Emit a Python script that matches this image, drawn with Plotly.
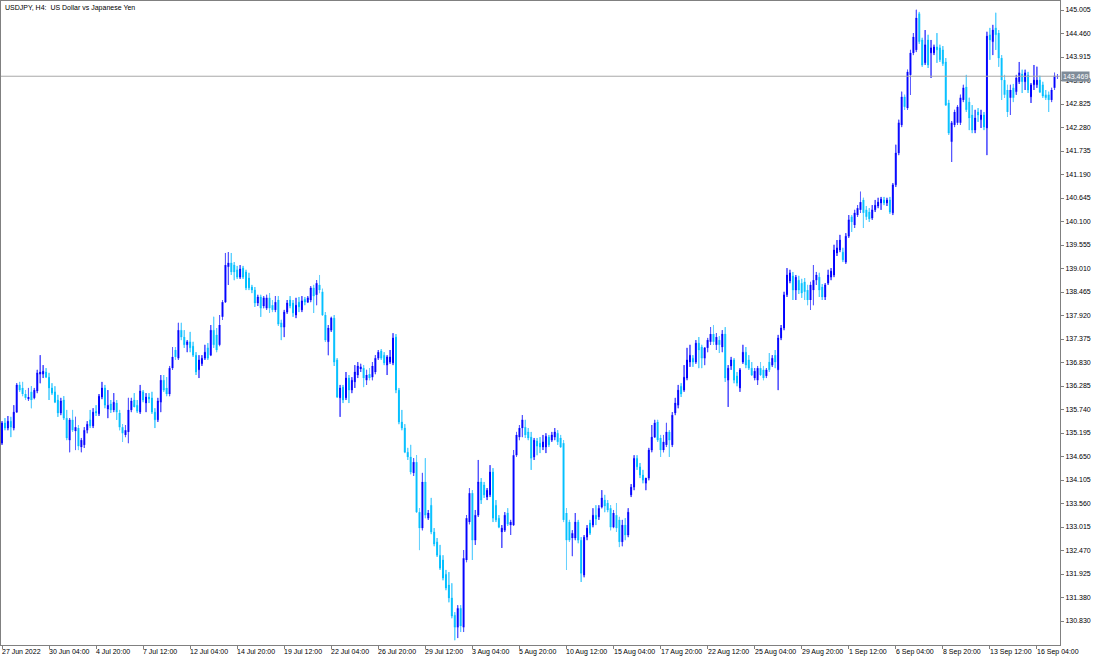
import plotly.graph_objects as go

# ---- data (USDJPY, H4) ----
opens = [
    134.96, 135.43, 135.31, 135.47, 135.31, 135.68, 136.31, 136.24, 136.10, 135.98,
    136.15, 136.01, 136.17, 136.56, 136.56, 136.61, 136.49, 136.24, 136.15, 135.96,
    135.66, 135.96, 135.54, 135.03, 135.50, 135.24, 135.31, 134.87, 134.92, 135.26,
    135.50, 135.36, 135.70, 135.64, 136.03, 136.24, 135.75, 135.87, 135.73, 135.89,
    135.66, 135.33, 135.15, 135.22, 135.73, 135.96, 135.84, 135.68, 136.15, 135.89,
    136.03, 136.01, 135.68, 135.50, 135.91, 136.42, 136.24, 136.10, 136.70, 137.12,
    136.93, 137.58, 137.42, 137.24, 137.31, 137.21, 137.00, 136.66, 136.80, 136.93,
    137.17, 137.00, 137.58, 137.47, 137.24, 137.89, 138.23, 139.05, 139.14, 139.09,
    138.98, 138.81, 139.02, 138.93, 138.79, 138.58, 138.51, 138.21, 138.35, 138.14,
    138.09, 138.33, 138.16, 138.05, 138.28, 137.75, 137.65, 138.00, 138.28, 138.21,
    137.93, 138.23, 138.05, 138.30, 138.23, 138.28, 138.56, 138.40, 138.63, 138.47,
    137.93, 137.31, 137.58, 137.86, 136.89, 136.01, 136.26, 136.01, 136.47, 136.19,
    136.38, 136.54, 136.68, 136.70, 136.42, 136.56, 136.49, 136.61, 136.93, 137.10,
    137.00, 136.77, 136.84, 136.82, 137.42, 136.19, 135.45, 135.31, 134.75, 134.64,
    134.27, 134.52, 133.36, 132.99, 134.06, 133.22, 133.52, 132.90, 132.67, 132.36,
    132.25, 131.92, 131.67, 131.37, 130.97, 130.69, 131.13, 130.69, 132.25, 133.13,
    133.80, 132.71, 133.29, 134.06, 133.99, 133.71, 133.76, 134.29, 133.52, 133.22,
    132.90, 132.94, 133.34, 133.06, 133.06, 134.68, 135.10, 135.31, 135.33, 135.22,
    135.10, 134.64, 135.01, 134.96, 134.87, 134.87, 135.10, 135.03, 135.10, 135.19,
    135.08, 134.96, 133.34, 133.13, 132.76, 132.76, 133.13, 132.71, 131.90, 132.78,
    133.11, 133.06, 133.29, 133.25, 133.48, 133.64, 133.57, 133.45, 133.01, 133.29,
    133.18, 132.67, 133.06, 132.83, 133.76, 133.94, 134.61, 134.41, 134.22, 134.03,
    134.15, 134.80, 135.10, 135.45, 135.08, 134.80, 134.92, 135.22, 134.92, 135.66,
    135.84, 136.28, 136.19, 136.47, 136.84, 136.93, 136.84, 137.28, 137.19, 136.93,
    137.17, 137.31, 137.49, 137.24, 137.35, 137.19, 137.49, 136.42, 136.75, 136.89,
    136.52, 136.24, 136.84, 137.07, 136.89, 136.70, 136.47, 136.42, 136.70, 136.66,
    136.52, 136.84, 136.77, 137.00, 136.66, 137.40, 137.63, 138.40, 138.72, 138.84,
    138.51, 138.74, 138.67, 138.70, 138.51, 138.28, 138.51, 138.74, 138.81, 138.58,
    138.35, 138.67, 138.81, 138.86, 139.37, 139.44, 139.39, 139.16, 139.76, 140.21,
    140.02, 140.25, 140.37, 140.60, 140.37, 140.32, 140.18, 140.37, 140.46, 140.53,
    140.60, 140.53, 140.60, 140.30, 140.95, 141.69, 142.34, 142.99, 142.73, 143.50,
    144.01, 144.08, 144.92, 144.31, 143.78, 144.31, 144.01, 144.01, 144.15, 144.13,
    144.08, 143.80, 142.85, 141.95, 142.34, 142.39, 142.39, 142.92, 143.22, 142.87,
    142.57, 142.22, 142.64, 142.46, 142.57, 142.27, 144.43, 144.27, 144.59, 144.47,
    143.89, 143.38, 143.15, 142.97, 143.20, 143.11, 143.34, 143.52, 143.34, 143.50,
    142.99, 143.27, 143.27, 143.38, 143.27, 143.04, 143.04, 142.92, 143.20, 143.45,
]
highs = [
    135.47, 135.54, 135.59, 135.57, 135.84, 136.35, 136.38, 136.38, 136.19, 136.24,
    136.28, 136.24, 136.66, 137.00, 136.77, 136.70, 136.59, 136.35, 136.28, 136.08,
    136.01, 136.05, 135.73, 135.54, 135.73, 135.57, 135.38, 135.08, 135.33, 135.47,
    135.73, 135.77, 135.84, 136.10, 136.38, 136.31, 136.19, 135.96, 136.12, 135.96,
    135.73, 135.40, 135.38, 136.01, 136.01, 136.12, 135.96, 136.31, 136.19, 136.12,
    136.12, 136.15, 135.77, 136.01, 136.54, 136.54, 136.49, 136.75, 137.19, 137.19,
    137.75, 137.75, 137.58, 137.35, 137.54, 137.31, 137.07, 137.00, 137.00, 137.24,
    137.28, 137.70, 137.89, 137.63, 137.93, 138.28, 139.37, 139.39, 139.37, 139.16,
    139.07, 139.09, 139.07, 138.98, 138.91, 138.63, 138.58, 138.40, 138.40, 138.37,
    138.40, 138.44, 138.28, 138.37, 138.37, 137.82, 138.05, 138.28, 138.37, 138.28,
    138.33, 138.35, 138.37, 138.35, 138.37, 138.60, 138.63, 138.74, 138.86, 138.54,
    138.00, 137.70, 137.89, 137.93, 136.93, 136.31, 136.31, 136.61, 136.54, 136.49,
    136.77, 136.84, 136.80, 136.77, 136.66, 136.70, 136.84, 137.00, 137.12, 137.14,
    137.07, 137.00, 137.12, 137.51, 137.49, 136.24, 135.73, 135.40, 134.85, 134.92,
    134.61, 134.68, 133.45, 134.27, 134.61, 133.41, 133.69, 132.99, 132.76, 132.60,
    132.36, 132.02, 131.97, 131.71, 131.04, 131.20, 131.20, 132.48, 133.29, 133.92,
    133.87, 133.41, 134.57, 134.15, 134.06, 133.92, 134.45, 134.38, 133.64, 133.29,
    133.06, 133.36, 133.45, 133.18, 134.80, 135.22, 135.38, 135.61, 135.50, 135.31,
    135.22, 135.08, 135.08, 135.10, 135.15, 135.19, 135.15, 135.22, 135.31, 135.26,
    135.15, 135.03, 133.45, 133.18, 132.94, 133.34, 133.18, 132.78, 132.83, 133.06,
    133.18, 133.45, 133.52, 133.52, 133.87, 133.76, 133.64, 133.52, 133.41, 133.57,
    133.25, 133.18, 133.22, 133.45, 134.01, 134.68, 134.68, 134.50, 134.34, 134.15,
    134.85, 135.38, 135.50, 135.50, 135.15, 135.15, 135.43, 135.26, 135.68, 136.01,
    136.31, 136.35, 136.77, 137.17, 137.24, 137.00, 137.35, 137.42, 137.24, 137.19,
    137.40, 137.65, 137.70, 137.51, 137.44, 137.58, 137.65, 136.77, 136.96, 136.93,
    136.61, 136.70, 137.24, 137.19, 137.00, 136.84, 136.70, 136.75, 136.84, 136.75,
    136.70, 137.05, 137.00, 137.12, 137.47, 137.70, 138.47, 139.02, 138.98, 138.93,
    138.86, 138.84, 138.77, 138.79, 138.63, 138.70, 139.09, 138.93, 138.91, 138.65,
    138.67, 138.98, 139.02, 139.56, 139.67, 139.79, 139.49, 139.83, 140.25, 140.25,
    140.37, 140.48, 140.79, 140.65, 140.46, 140.41, 140.48, 140.60, 140.65, 140.67,
    140.67, 140.65, 140.67, 140.99, 141.88, 142.46, 143.11, 143.04, 143.62, 144.08,
    144.47, 145.01, 144.96, 144.36, 144.54, 144.43, 144.31, 144.20, 144.47, 144.20,
    144.17, 143.89, 142.92, 142.43, 142.69, 142.80, 143.04, 143.27, 143.50, 142.97,
    142.80, 142.69, 142.73, 142.69, 142.64, 144.50, 144.59, 144.66, 144.94, 144.54,
    143.96, 143.50, 143.27, 143.27, 143.29, 143.50, 143.80, 143.62, 143.62, 143.57,
    143.31, 143.73, 143.69, 143.48, 143.34, 143.15, 143.11, 143.20, 143.55, 143.52,
]
lows = [
    134.92, 135.26, 135.26, 135.10, 135.26, 135.66, 136.15, 136.05, 135.96, 135.94,
    135.77, 135.98, 136.12, 136.35, 136.47, 136.47, 135.96, 136.08, 135.89, 135.57,
    135.61, 135.50, 135.03, 134.75, 135.22, 134.80, 134.80, 134.75, 134.85, 135.19,
    135.31, 135.31, 135.59, 135.59, 135.98, 135.77, 135.54, 135.66, 135.68, 135.50,
    135.26, 134.99, 135.10, 134.96, 135.68, 135.87, 135.66, 135.64, 135.91, 135.68,
    135.89, 135.64, 135.31, 135.45, 135.68, 136.15, 136.05, 136.05, 136.66, 136.89,
    136.89, 137.35, 137.17, 137.07, 137.07, 136.96, 136.54, 136.47, 136.75, 136.89,
    136.89, 136.98, 137.17, 137.07, 137.21, 137.82, 138.21, 138.63, 138.86, 138.74,
    138.77, 138.77, 138.77, 138.51, 138.51, 138.44, 138.12, 138.14, 137.89, 138.09,
    138.05, 137.98, 138.00, 138.00, 137.68, 137.35, 137.42, 137.96, 138.09, 137.89,
    137.86, 138.00, 138.00, 138.16, 138.21, 138.23, 137.98, 138.16, 138.44, 137.91,
    137.31, 137.00, 137.54, 136.75, 136.01, 135.57, 135.89, 135.96, 135.89, 136.12,
    136.24, 136.47, 136.61, 136.26, 136.31, 136.42, 136.42, 136.56, 136.89, 136.89,
    136.77, 136.54, 136.80, 136.77, 136.12, 135.40, 135.26, 134.73, 134.57, 134.24,
    134.20, 133.34, 132.48, 132.94, 133.22, 133.18, 132.85, 132.57, 132.32, 132.02,
    131.78, 131.55, 131.27, 130.90, 130.39, 130.44, 130.58, 130.58, 132.20, 133.08,
    132.25, 132.60, 133.25, 133.55, 133.69, 133.64, 133.71, 133.13, 133.13, 132.99,
    132.53, 132.90, 133.04, 132.83, 133.04, 134.64, 135.03, 135.10, 135.08, 135.03,
    134.34, 134.57, 134.68, 134.73, 134.80, 134.73, 134.87, 134.99, 135.03, 134.92,
    134.85, 133.13, 132.02, 132.67, 132.34, 132.71, 132.64, 131.74, 131.85, 132.71,
    132.83, 133.01, 133.06, 133.18, 133.45, 133.36, 133.36, 132.94, 132.99, 132.90,
    132.55, 132.57, 132.71, 132.78, 133.71, 133.87, 134.34, 134.15, 134.03, 133.87,
    134.10, 134.75, 135.08, 134.99, 134.64, 134.75, 134.87, 134.64, 134.87, 135.61,
    135.77, 136.03, 136.15, 136.42, 136.73, 136.73, 136.80, 136.70, 136.70, 136.77,
    137.07, 137.24, 137.24, 137.12, 137.05, 137.07, 136.38, 135.80, 136.66, 136.35,
    136.28, 136.15, 136.80, 136.70, 136.66, 136.52, 136.42, 136.31, 136.52, 136.42,
    136.47, 136.61, 136.73, 136.70, 136.19, 137.35, 137.58, 138.35, 138.67, 138.28,
    138.28, 138.42, 138.33, 138.28, 138.16, 138.05, 138.16, 138.63, 138.35, 138.28,
    138.28, 138.63, 138.74, 138.81, 139.30, 139.39, 139.16, 139.12, 139.72, 139.86,
    139.95, 140.21, 140.30, 139.95, 140.14, 140.09, 140.14, 140.32, 140.41, 140.37,
    140.48, 140.46, 140.28, 140.25, 140.90, 141.64, 142.29, 142.69, 142.69, 143.04,
    143.96, 144.03, 144.22, 143.69, 143.73, 143.66, 143.43, 143.96, 143.78, 143.80,
    143.71, 142.78, 142.11, 141.48, 142.29, 142.34, 142.34, 142.87, 142.64, 142.22,
    142.15, 142.15, 142.41, 142.27, 142.22, 141.64, 143.85, 143.96, 144.08, 143.69,
    142.92, 142.97, 142.53, 142.57, 142.87, 143.04, 143.29, 143.08, 143.15, 143.08,
    142.85, 143.15, 143.20, 143.08, 142.97, 142.92, 142.64, 142.87, 143.15, 143.41,
]
closes = [
    135.43, 135.31, 135.47, 135.33, 135.68, 136.31, 136.19, 136.10, 136.01, 136.03,
    135.96, 136.19, 136.59, 136.61, 136.63, 136.49, 136.24, 136.12, 135.91, 135.66,
    135.94, 135.54, 135.08, 135.50, 135.26, 135.33, 134.89, 135.03, 135.26, 135.40,
    135.36, 135.68, 135.66, 136.05, 136.24, 135.84, 135.84, 135.73, 135.91, 135.68,
    135.33, 135.19, 135.26, 135.73, 135.94, 135.80, 135.70, 136.17, 135.96, 136.03,
    135.98, 135.68, 135.50, 135.94, 136.42, 136.19, 136.10, 136.70, 136.96, 136.96,
    137.58, 137.42, 137.24, 137.31, 137.17, 137.00, 136.61, 136.89, 136.93, 137.07,
    136.93, 137.58, 137.24, 137.12, 137.70, 138.23, 139.09, 139.14, 138.93, 138.93,
    138.81, 139.00, 138.81, 138.56, 138.56, 138.51, 138.21, 138.35, 138.09, 138.33,
    138.33, 138.09, 138.05, 138.23, 137.72, 137.65, 138.00, 138.21, 138.14, 137.98,
    138.16, 138.12, 138.26, 138.23, 138.33, 138.56, 138.37, 138.67, 138.51, 137.93,
    137.35, 137.63, 137.86, 136.84, 136.03, 136.24, 135.96, 136.47, 136.19, 136.42,
    136.61, 136.75, 136.73, 136.47, 136.54, 136.47, 136.75, 136.93, 137.07, 136.93,
    136.82, 136.96, 136.96, 137.40, 136.19, 135.45, 135.31, 134.75, 134.64, 134.29,
    134.52, 133.36, 132.99, 134.06, 133.29, 133.34, 132.90, 132.62, 132.36, 132.06,
    131.83, 131.60, 131.37, 130.95, 130.69, 131.13, 130.72, 132.29, 133.22, 133.80,
    132.71, 133.29, 134.06, 133.64, 133.76, 133.87, 134.29, 133.22, 133.18, 133.01,
    132.99, 133.29, 133.08, 133.13, 134.68, 135.15, 135.31, 135.50, 135.15, 135.08,
    134.61, 135.03, 134.89, 134.87, 134.99, 135.12, 134.92, 135.15, 135.22, 134.99,
    134.87, 133.18, 132.71, 132.71, 132.87, 133.13, 132.71, 131.94, 132.78, 132.99,
    132.87, 133.29, 133.20, 133.45, 133.69, 133.50, 133.41, 133.01, 133.34, 132.99,
    132.67, 133.06, 132.83, 133.36, 133.94, 134.61, 134.41, 134.22, 134.10, 134.15,
    134.80, 135.10, 135.43, 135.03, 134.80, 134.99, 135.22, 135.03, 135.61, 135.89,
    136.19, 136.10, 136.49, 136.89, 137.00, 136.84, 137.28, 137.12, 136.93, 137.17,
    137.35, 137.49, 137.31, 137.42, 137.24, 137.49, 136.47, 136.70, 136.89, 136.42,
    136.35, 136.66, 137.07, 136.77, 136.70, 136.54, 136.63, 136.70, 136.54, 136.47,
    136.66, 136.66, 136.93, 136.84, 137.40, 137.63, 138.40, 138.86, 138.91, 138.51,
    138.81, 138.51, 138.44, 138.47, 138.28, 138.63, 138.74, 138.86, 138.51, 138.35,
    138.63, 138.86, 138.95, 139.44, 139.49, 139.67, 139.21, 139.76, 140.14, 140.09,
    140.30, 140.41, 140.55, 140.30, 140.21, 140.16, 140.37, 140.48, 140.55, 140.62,
    140.53, 140.60, 140.32, 140.95, 141.69, 142.39, 142.99, 142.76, 143.57, 144.01,
    144.38, 144.82, 144.27, 143.73, 144.20, 143.73, 144.13, 144.15, 144.08, 143.85,
    143.76, 142.80, 142.15, 142.39, 142.64, 142.76, 142.97, 143.20, 142.69, 142.50,
    142.22, 142.50, 142.57, 142.57, 142.29, 144.40, 144.31, 144.54, 144.43, 143.89,
    143.38, 143.04, 142.64, 143.15, 142.97, 143.43, 143.55, 143.34, 143.55, 143.15,
    143.27, 143.38, 143.38, 143.10, 143.01, 142.97, 142.92, 143.15, 143.48, 143.469,
]

# time-axis labels (one every 16 H4 bars, bar index given)
tick_bars = [0, 16, 32, 48, 64, 80, 96, 112, 128, 144, 160, 176,
             192, 208, 224, 240, 256, 272, 288, 304, 320, 336, 352]
tick_labels = ["27 Jun 2022", "30 Jun 04:00", "4 Jul 20:00", "7 Jul 12:00",
               "12 Jul 04:00", "14 Jul 20:00", "19 Jul 12:00", "22 Jul 04:00",
               "26 Jul 20:00", "29 Jul 12:00", "3 Aug 04:00", "5 Aug 20:00",
               "10 Aug 12:00", "15 Aug 04:00", "17 Aug 20:00", "22 Aug 12:00",
               "25 Aug 04:00", "29 Aug 20:00", "1 Sep 12:00", "6 Sep 04:00",
               "8 Sep 20:00", "13 Sep 12:00", "16 Sep 04:00"]

price_ticks = [145.005, 144.460, 143.915, 143.370, 142.825, 142.280, 141.735,
               141.190, 140.645, 140.100, 139.555, 139.010, 138.465, 137.920,
               137.375, 136.830, 136.285, 135.740, 135.195, 134.650, 134.105,
               133.560, 133.015, 132.470, 131.925, 131.380, 130.835]
price_tick_text = ["145.005", "144.460", "143.915", "143.370", "142.825", "142.280",
                   "141.735", "141.190", "140.645", "140.100", "139.555", "139.010",
                   "138.465", "137.920", "137.375", "136.830", "136.285", "135.740",
                   "135.195", "134.650", "134.105", "133.560", "133.015", "132.470",
                   "131.925", "131.380", "130.830"]

bid_price = 143.469
chart_title = "USDJPY, H4:  US Dollar vs Japanese Yen"

UP = "#0000FF"
DOWN = "#00BFFF"
UP_WICK = "#6060FF"
DOWN_WICK = "#6AD2FF"
AXIS = "#808080"
FONT = "Liberation Sans"
FS = 7

bars = list(range(len(opens)))

fig = go.Figure()
fig.add_trace(go.Candlestick(
    x=bars, open=opens, high=highs, low=lows, close=closes,
    increasing=dict(line=dict(color=UP, width=1), fillcolor=UP),
    decreasing=dict(line=dict(color=DOWN, width=1), fillcolor=DOWN),
    whiskerwidth=0, hoverinfo="skip", showlegend=False,
))

# lighter shadows (wicks) drawn over the candlestick whiskers, outside the bodies
for is_up, col in ((True, UP_WICK), (False, DOWN_WICK)):
    wx, wy = [], []
    for i, (o, h, l, c) in enumerate(zip(opens, highs, lows, closes)):
        if (c >= o) != is_up:
            continue
        top, bot = max(o, c), min(o, c)
        if h > top:
            wx += [i, i, None]
            wy += [h, top, None]
        if l < bot:
            wx += [i, i, None]
            wy += [bot, l, None]
    fig.add_trace(go.Scatter(x=wx, y=wy, mode="lines", line=dict(color=col, width=1),
                             hoverinfo="skip", showlegend=False))

fig.update_layout(
    width=1100, height=660,
    margin=dict(l=1, r=40, t=1, b=15),
    paper_bgcolor="white", plot_bgcolor="white",
    showlegend=False,
    boxgap=0.55,
    font=dict(family=FONT, size=FS, color="black"),
    xaxis=dict(
        range=[-0.34, 359.86], rangeslider=dict(visible=False),
        showgrid=False, zeroline=False,
        showline=True, linecolor=AXIS, linewidth=1, mirror=True,
        tickvals=tick_bars, ticks="outside", ticklen=3, tickcolor=AXIS,
        showticklabels=False,
    ),
    yaxis=dict(
        side="right", range=[130.279, 145.214],
        showgrid=False, zeroline=False,
        showline=True, linecolor=AXIS, linewidth=1, mirror=True,
        tickvals=price_ticks, ticktext=price_tick_text,
        ticks="outside", ticklen=3, tickcolor=AXIS,
        tickfont=dict(family=FONT, size=FS, color="black"),
    ),
)

# bid line
fig.add_shape(type="line", xref="paper", x0=0, x1=1, yref="y",
              y0=bid_price, y1=bid_price, line=dict(color="#A8A8A8", width=1))
fig.add_annotation(xref="paper", x=1, xanchor="left", xshift=1,
                   yref="y", y=bid_price, yanchor="middle",
                   text=f"{bid_price:.3f}", showarrow=False,
                   bgcolor="#7F8C99", borderpad=1,
                   font=dict(family=FONT, size=FS, color="white"))

# title
fig.add_annotation(xref="paper", yref="paper", x=0, y=1, xanchor="left", yanchor="top",
                   xshift=2, yshift=-1, text=chart_title, showarrow=False,
                   font=dict(family=FONT, size=FS, color="black"))

# time labels
for b, lab in zip(tick_bars, tick_labels):
    fig.add_annotation(xref="x", yref="paper", x=b, y=0, xanchor="left", yanchor="top",
                       xshift=-2, yshift=-1, text=lab, showarrow=False,
                       font=dict(family=FONT, size=FS, color="black"))

fig.write_html("out.html", config={"displayModeBar": False},
               post_script="document.body.style.margin='0px';document.body.style.padding='0px';")
